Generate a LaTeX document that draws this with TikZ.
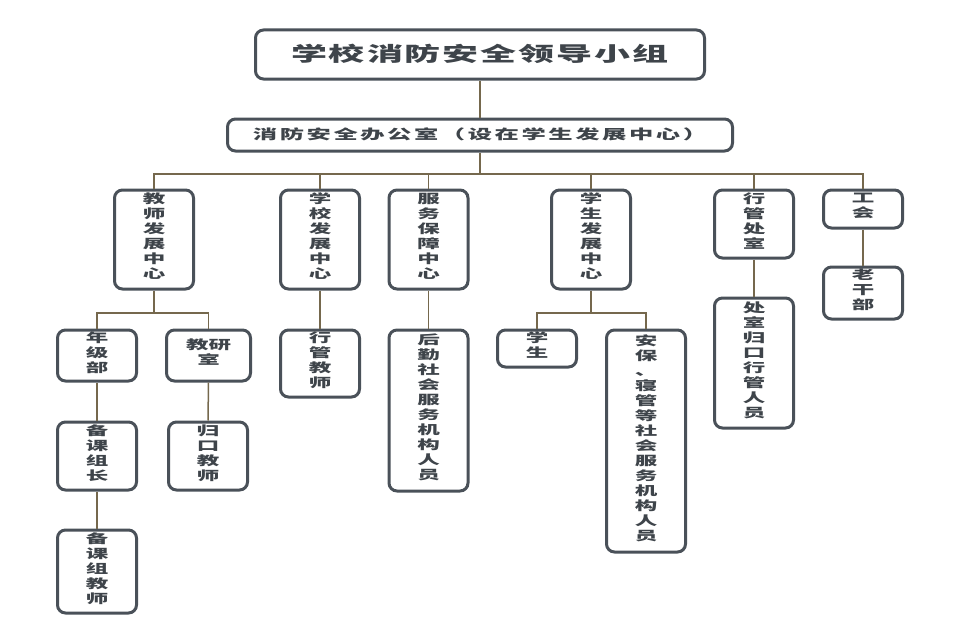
\documentclass[tikz,border=0pt]{standalone}
\usepackage{fontspec}
\setmainfont{Noto Sans CJK SC}[FakeStretch=1.8]
\definecolor{boxline}{HTML}{4A5159}
\definecolor{boxtext}{HTML}{3E444A}
\definecolor{linkline}{HTML}{75684D}
\begin{document}
\begin{tikzpicture}[x=1pt,y=-1pt,
    unit/.style={draw=boxline,line width=3pt,rounded corners=8pt,fill=white,
      text=boxtext,font=\fontsize{12.5}{15}\selectfont\bfseries,align=center,
      anchor=north,minimum width=79pt,inner sep=0pt,text depth=7pt},
    link/.style={draw=linkline,line width=1.5pt}]
  \useasboundingbox (0,0) rectangle (960,642);
  % top levels
  \node[unit,minimum width=449pt,minimum height=49pt,text depth=4pt,
        font=\fontsize{20}{24}\selectfont\bfseries\addfontfeature{LetterSpace=10}] (lead) at (480,28.5) {学校消防安全领导小组};
  \node[unit,minimum width=505pt,minimum height=32pt,text depth=3pt,
        font=\fontsize{13.5}{16}\selectfont\bfseries\addfontfeature{LetterSpace=19}] (office) at (480,117.5) {消防安全办公室（设在学生发展中心）};
  % centres
  \node[unit,minimum height=99pt] (jsfz) at (154,188.5) {教\\师\\发\\展\\中\\心};
  \node[unit,minimum height=99pt] (xxfz) at (320,188.5) {学\\校\\发\\展\\中\\心};
  \node[unit,minimum height=99pt] (fwbz) at (428.5,188.5) {服\\务\\保\\障\\中\\心};
  \node[unit,minimum height=99pt] (xsfz) at (591,188.5) {学\\生\\发\\展\\中\\心};
  \node[unit,minimum height=68pt] (xgcs) at (754,188.5) {行\\管\\处\\室};
  \node[unit,minimum height=38pt] (gh) at (863,188.5) {工\\会};
  % second row
  \node[unit,minimum height=51pt] (njb) at (97,328.5) {年\\级\\部};
  \node[unit,minimum width=84pt,minimum height=51pt] (jys) at (208.5,328.5) {教研\\室};
  \node[unit,minimum height=67pt] (xgjs) at (320,328.5) {行\\管\\教\\师};
  \node[unit,minimum height=161pt] (hq) at (428.5,328.5) {后\\勤\\社\\会\\服\\务\\机\\构\\人\\员};
  \node[unit,minimum height=37pt] (xs) at (537,328.5) {学\\生};
  \node[unit,minimum height=222pt] (ab) at (646,328.5) {安\\保\\、\\寝\\管\\等\\社\\会\\服\\务\\机\\构\\人\\员};
  \node[unit,minimum height=130pt] (cs) at (754,296.5) {处\\室\\归\\口\\行\\管\\人\\员};
  \node[unit,minimum height=52pt] (lgb) at (863,265.5) {老\\干\\部};
  % third row
  \node[unit,minimum height=68pt] (bkzz) at (97,420.5) {备\\课\\组\\长};
  \node[unit,minimum height=68pt] (gkjs) at (208,420.5) {归\\口\\教\\师};
  \node[unit,minimum height=83pt] (bkjs) at (97,528.5) {备\\课\\组\\教\\师};
  % connectors
  \coordinate (bus) at (480,174);
  \coordinate (jsbus) at (154,313);
  \coordinate (xsbus) at (591,313);
  \draw[link] (lead.south) -- (office.north);
  \draw[link] (office.south) -- (bus);
  \foreach \n in {jsfz,xxfz,fwbz,xsfz,xgcs,gh}
    \draw[link] (bus) -| (\n.north);
  \draw[link] (jsfz.south) -- (jsbus);
  \draw[link] (jsbus) -| (njb.north);
  \draw[link] (jsbus) -| (jys.north);
  \draw[link] (xsfz.south) -- (xsbus);
  \draw[link] (xsbus) -| (xs.north);
  \draw[link] (xsbus) -| (ab.north);
  \draw[link] (xxfz.south) -- (xgjs.north);
  \draw[link] (fwbz.south) -- (hq.north);
  \draw[link] (xgcs.south) -- (cs.north);
  \draw[link] (gh.south) -- (lgb.north);
  \draw[link] (njb.south) -- (bkzz.north);
  \draw[link] (jys.south) -- (gkjs.north);
  \draw[link] (bkzz.south) -- (bkjs.north);
\end{tikzpicture}
\end{document}
